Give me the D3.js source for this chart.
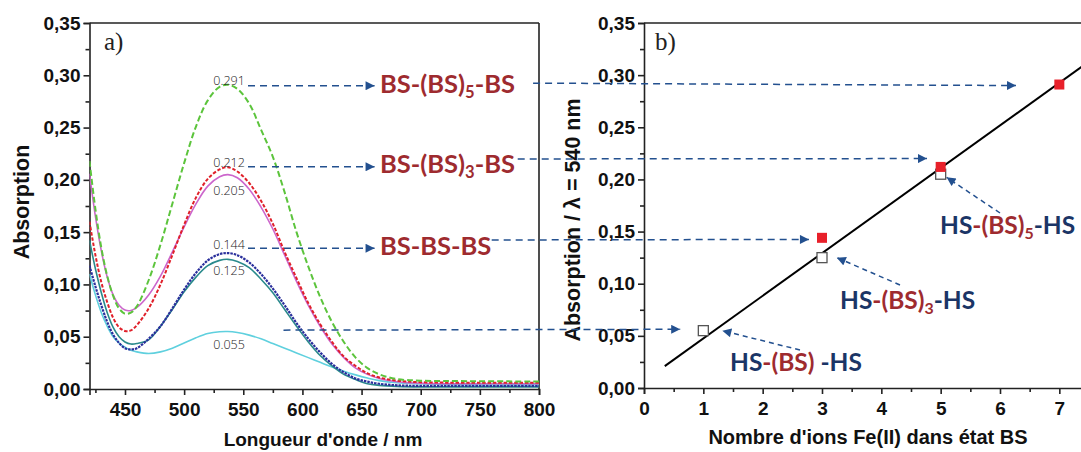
<!DOCTYPE html>
<html><head><meta charset="utf-8">
<script src="https://cdn.jsdelivr.net/npm/d3@7"></script>
<style>
html,body{margin:0;padding:0;background:#fff;overflow:hidden}
svg{display:block}
.tk text{font-family:"Liberation Sans",Arial,sans-serif;font-weight:bold;font-size:19px;fill:#111}
.tk path,.tk line{stroke:#222;stroke-width:1.6}
</style></head>
<body>
<svg id="c" width="1081" height="452"></svg>
<script>
// ---- data ----
const wavelengths = [420,425,430,435,440,445,450,455,460,470,480,490,500,510,520,530,537,545,555,565,575,585,595,605,615,625,635,645,655,665,680,700,740,800];
const greenBS5 = [.218,.172,.135,.108,.089,.077,.072,.073,.079,.104,.138,.177,.216,.251,.276,.289,.291,.287,.273,.248,.222,.188,.150,.117,.088,.064,.045,.030,.020,.014,.0095,.008,.0075,.0072];
const redBS3   = [.160,.128,.102,.083,.068,.059,.0555,.056,.061,.077,.100,.128,.157,.183,.201,.210,.212,.208,.197,.180,.158,.131,.106,.082,.062,.045,.031,.022,.015,.011,.008,.0065,.006,.006];
const magentaHS5=[.206,.165,.132,.107,.090,.080,.0755,.075,.078,.090,.108,.131,.155,.177,.194,.203,.205,.202,.191,.174,.153,.128,.103,.080,.060,.043,.030,.020,.014,.010,.007,.0055,.005,.005];
const blueBS1  = [.118,.098,.080,.064,.052,.044,.039,.0378,.039,.048,.060,.077,.095,.111,.123,.129,.130,.128,.121,.110,.096,.080,.063,.048,.035,.024,.016,.010,.007,.005,.0035,.003,.003,.003];
const tealHS3  = [.142,.115,.092,.073,.059,.050,.045,.043,.0435,.047,.060,.076,.093,.107,.118,.123,.124,.122,.116,.105,.092,.076,.060,.045,.032,.022,.014,.009,.005,.0035,.0025,.002,.002,.002];
const cyanHS1  = [.110,.090,.073,.060,.050,.044,.040,.037,.0355,.034,.0355,.039,.044,.049,.053,.0548,.055,.054,.0515,.048,.0435,.039,.0345,.030,.0255,.021,.017,.0135,.0105,.008,.006,.005,.004,.004];

const peakLabels = ["0.291","0.212","0.205","0.144","0.125","0.055"];
const peakLabelValues = [0.291,0.212,0.205,0.144,0.125,0.055];

const nBS_filled = [3,5,7];
const abs_filled = [0.144,0.212,0.291];
const nBS_open = [1,3,5];
const abs_open = [0.055,0.125,0.205];
const fitX = [0.35,7.45];
const fitY = [0.021,0.311];

const yTicks = [0,0.05,0.10,0.15,0.20,0.25,0.30,0.35];
const xTicksL = [450,500,550,600,650,700,750,800];
const xTicksR = [0,1,2,3,4,5,6,7];

// ---- scales ----
const yL = d3.scaleLinear().domain([0,0.35]).range([389,23]);
const xL = d3.scaleLinear().domain([420,800]).range([89.5,539]);
const xR = d3.scaleLinear().domain([0,7.5]).range([644,1089]);
const yR = d3.scaleLinear().domain([0,0.35]).range([388,23]);

const svg = d3.select("#c");
const fmt = d => d3.format(".2f")(d).replace(".",",");

// defs
const defs = svg.append("defs");
defs.append("clipPath").attr("id","clipL").append("rect").attr("x",89.5).attr("y",23).attr("width",449.5).attr("height",366);
defs.append("marker").attr("id","ah").attr("viewBox","0 0 10 10").attr("refX",10).attr("refY",5)
  .attr("markerWidth",10).attr("markerHeight",9).attr("markerUnits","userSpaceOnUse").attr("orient","auto")
  .append("path").attr("d","M0,0L10,5L0,10Z").attr("fill","#23508f");

// ---- left panel axes ----
svg.append("g").attr("class","tk").attr("transform","translate(89.5,0)")
  .call(d3.axisLeft(yL).tickValues(yTicks).tickFormat(fmt).tickSize(6).tickPadding(3));
svg.append("g").attr("class","tk").attr("transform","translate(89.5,0)")
  .call(d3.axisLeft(yL).tickValues(d3.range(0.025,0.35,0.05)).tickFormat("").tickSize(4)).select(".domain").remove();
svg.append("g").attr("class","tk").attr("transform","translate(0,389)")
  .call(d3.axisBottom(xL).tickValues(xTicksL).tickSize(6).tickPadding(8));
svg.append("g").attr("class","tk").attr("transform","translate(0,389)")
  .call(d3.axisBottom(xL).tickValues(d3.range(425,800,50)).tickFormat("").tickSize(4)).select(".domain").remove();
svg.append("line").attr("x1",89.5).attr("x2",539).attr("y1",23).attr("y2",23).attr("stroke","#222").attr("stroke-width",1.6);
svg.append("line").attr("x1",539).attr("x2",539).attr("y1",23).attr("y2",389).attr("stroke","#222").attr("stroke-width",1.6);

// ---- right panel axes ----
svg.append("g").attr("class","tk").attr("transform","translate(644,0)")
  .call(d3.axisLeft(yR).tickValues(yTicks).tickFormat(fmt).tickSize(6).tickPadding(3));
svg.append("g").attr("class","tk").attr("transform","translate(644,0)")
  .call(d3.axisLeft(yR).tickValues(d3.range(0.025,0.35,0.05)).tickFormat("").tickSize(4)).select(".domain").remove();
svg.append("g").attr("class","tk").attr("transform","translate(0,388)")
  .call(d3.axisBottom(xR).tickValues(xTicksR).tickSize(6).tickPadding(8));
svg.append("g").attr("class","tk").attr("transform","translate(0,388)")
  .call(d3.axisBottom(xR).tickValues(d3.range(0.5,7.5,1)).tickFormat("").tickSize(4)).select(".domain").remove();
svg.append("line").attr("x1",644).attr("x2",1081).attr("y1",23).attr("y2",23).attr("stroke","#222").attr("stroke-width",1.6);

// ---- titles ----
const tf = "Liberation Sans, Arial, sans-serif";
svg.append("text").attr("transform","translate(29,202) rotate(-90)").attr("text-anchor","middle")
  .attr("font-family",tf).attr("font-weight","bold").attr("font-size",21.5).attr("fill","#111").text("Absorption");
svg.append("text").attr("x",323).attr("y",446).attr("text-anchor","middle")
  .attr("font-family",tf).attr("font-weight","bold").attr("font-size",19).attr("fill","#111").text("Longueur d'onde / nm");
svg.append("text").attr("transform","translate(580,220) rotate(-90)").attr("text-anchor","middle")
  .attr("font-family",tf).attr("font-weight","bold").attr("font-size",21.5).attr("fill","#111").text("Absorption / λ = 540 nm");
svg.append("text").attr("x",868).attr("y",444).attr("text-anchor","middle")
  .attr("font-family",tf).attr("font-weight","bold").attr("font-size",20).attr("fill","#111").text("Nombre d'ions Fe(II) dans état BS");
svg.append("text").attr("x",104).attr("y",50).attr("font-family","Liberation Serif, serif").attr("font-size",25).attr("fill","#222").text("a)");
svg.append("text").attr("x",655).attr("y",50).attr("font-family","Liberation Serif, serif").attr("font-size",25).attr("fill","#222").text("b)");

// ---- spectra ----
const series = [
  {v:cyanHS1, c:"#5fd0de", w:1.6, d:null},
  {v:tealHS3, c:"#2a8a8c", w:1.6, d:null},
  {v:blueBS1, c:"#2a2f9c", w:2.2, d:"2.5,1"},
  {v:magentaHS5, c:"#cc66cc", w:1.6, d:null},
  {v:redBS3, c:"#e0202a", w:2, d:"3.5,1.8"},
  {v:greenBS5, c:"#5cc43c", w:2, d:"6,3"}
];
const line = d3.line().x((d,i)=>xL(wavelengths[i])).y(d=>yL(d)).curve(d3.curveCatmullRom.alpha(0.5));
const gc = svg.append("g").attr("clip-path","url(#clipL)");
series.forEach(s=>{
  gc.append("path").attr("d",line(s.v)).attr("fill","none").attr("stroke",s.c)
    .attr("stroke-width",s.w).attr("stroke-dasharray",s.d);
});

// peak value labels
const labelOffsets = [0,0,20,11,17,18];
peakLabels.forEach((t,i)=>{
  svg.append("text").attr("x",xL(538)).attr("y",yL(peakLabelValues[i])+labelOffsets[i])
    .attr("text-anchor","middle").attr("font-family","Open Sans, sans-serif").attr("font-weight",300)
    .attr("font-size",12.5).attr("fill","#1a1a1a").text(t);
});

// ---- annotations ----
const arrowColor = "#23508f";
function darrow(x1,y1,x2,y2,head,dash){
  const l = svg.append("line").attr("x1",x1).attr("y1",y1).attr("x2",x2).attr("y2",y2)
    .attr("stroke",arrowColor).attr("stroke-width",1.5).attr("stroke-dasharray",dash||"7,5");
  if(head) l.attr("marker-end","url(#ah)");
}
darrow(xL(554),yL(0.290),xL(661),yL(0.290),true);
darrow(xL(554),yL(0.2125),xL(661),yL(0.2125),true);
darrow(xL(554),yL(0.1346),xL(661),yL(0.1346),true);
darrow(xL(795),yL(0.2925),xR(6.27),yR(0.290),true);
darrow(xL(782),yL(0.220),xR(4.77),yR(0.220),true);
darrow(xL(760),yL(0.1425),xR(2.78),yR(0.1425),true);
darrow(xL(584),yL(0.0563),xR(0.61),yR(0.0563),true);
darrow(800,350,xR(1.32),yR(0.055),true,"5,4");
darrow(900,285,xR(3.25),yR(0.125),true,"5,4");
darrow(1000,213,xR(5.1),yR(0.202),true,"5,4");

// right panel fit line and points
svg.append("line").attr("x1",xR(fitX[0])).attr("y1",yR(fitY[0])).attr("x2",xR(fitX[1])).attr("y2",yR(fitY[1]))
  .attr("stroke","#000").attr("stroke-width",2);
svg.selectAll(".op").data(nBS_open).enter().append("rect")
  .attr("x",(d)=>xR(d)-5).attr("y",(d,i)=>yR(abs_open[i])-5).attr("width",10).attr("height",10)
  .attr("fill","#fff").attr("stroke","#555").attr("stroke-width",1.3);
svg.selectAll(".fp").data(nBS_filled).enter().append("rect")
  .attr("x",(d)=>xR(d)-5).attr("y",(d,i)=>yR(abs_filled[i])-5).attr("width",10).attr("height",10)
  .attr("fill","#e8202a");

// labels
const red = "#9e2b2f", navy="#1b3566";
const lf = "Lato, Open Sans, sans-serif";
function lab(x,y,parts,size){
  const t = svg.append("text").attr("x",x).attr("y",y).attr("font-family",lf).attr("font-weight","bold").attr("font-size",size);
  parts.forEach(p=>{
    const ts = t.append("tspan").attr("fill",p[1]).text(p[0]);
    if(p[2]==="sub") ts.attr("font-size",size*0.65).attr("dy",5);
    if(p[2]==="up") ts.attr("dy",-5);
  });
}
lab(380,93,[["BS-(BS)",red],["5",red,"sub"],["-BS",red,"up"]],25.5);
lab(380,173,[["BS-(BS)",red],["3",red,"sub"],["-BS",red,"up"]],25.5);
lab(380,255,[["BS-BS-BS",red]],25.5);
lab(940,234,[["HS",navy],["-(BS)",red],["5",red,"sub"],["-HS",navy,"up"]],24.5);
lab(840,309,[["HS",navy],["-(BS)",red],["3",red,"sub"],["-HS",navy,"up"]],24.5);
lab(730,371,[["HS",navy],["-(BS) ",red],["-HS",navy]],24.5);
</script>
</body></html>
